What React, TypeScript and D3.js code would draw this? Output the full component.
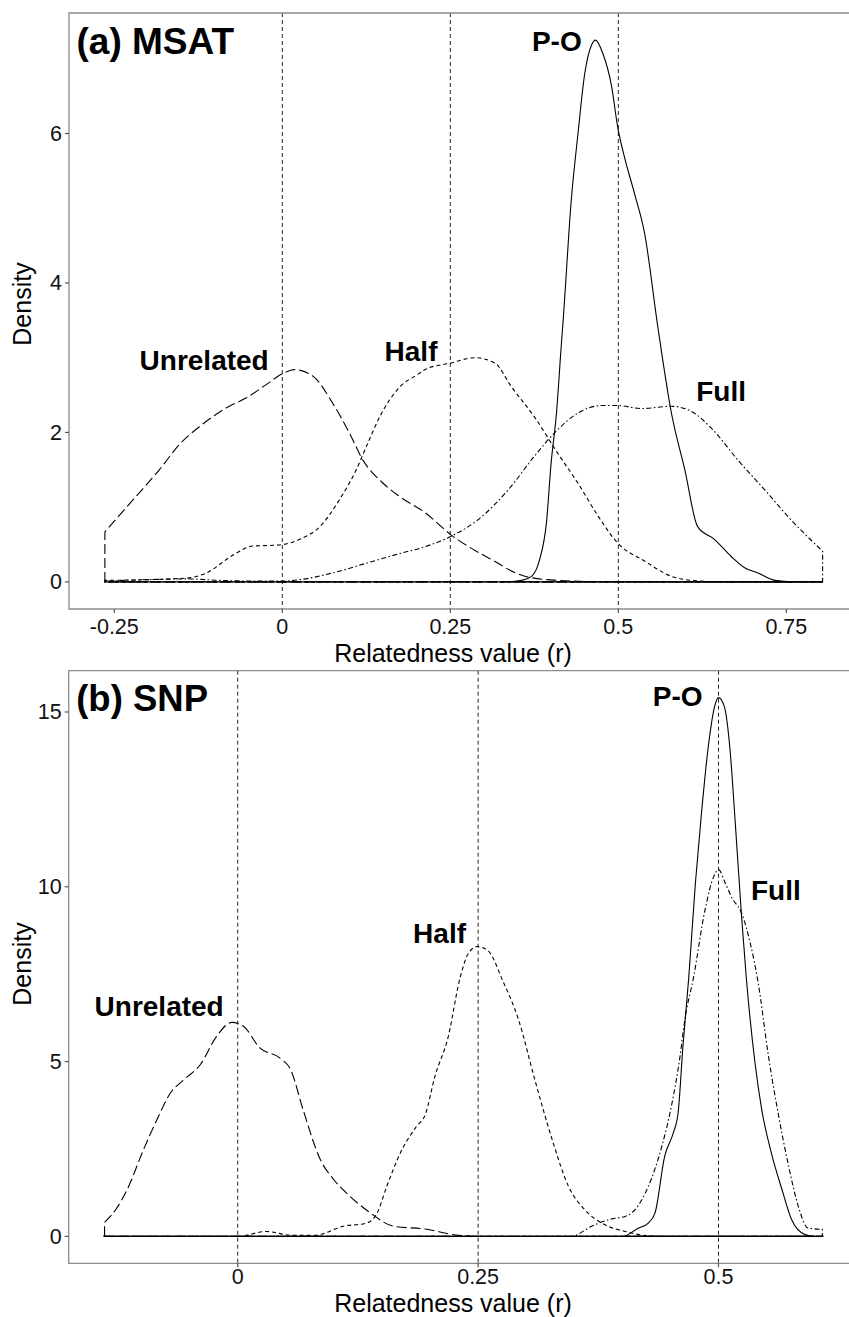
import React, { useRef, useEffect } from "react";
import * as d3 from "d3";

// tick values / labels
const msatXTicks = [-0.25, 0, 0.25, 0.5, 0.75];
const msatXTickLabels = ["-0.25", "0", "0.25", "0.5", "0.75"];
const msatYTicks = [0, 2, 4, 6];
const snpXTicks = [0, 0.25, 0.5];
const snpXTickLabels = ["0", "0.25", "0.5"];
const snpYTicks = [0, 5, 10, 15];
const refLines = [0, 0.25, 0.5];

// density curves: [r, density]
const msatUnrelated = [
  [-0.264, 0.67], [-0.222, 1.1], [-0.183, 1.5], [-0.153, 1.84], [-0.123, 2.08],
  [-0.083, 2.33], [-0.054, 2.46], [-0.024, 2.64], [0.001, 2.79], [0.018, 2.84],
  [0.046, 2.75], [0.075, 2.39], [0.1, 1.99], [0.12, 1.63], [0.15, 1.32],
  [0.175, 1.14], [0.212, 0.93], [0.251, 0.63], [0.311, 0.3], [0.361, 0.075],
  [0.41, 0.02], [0.5, 0], [0.804, 0],
];
const msatHalf = [
  [-0.264, 0.02], [-0.143, 0.05], [-0.113, 0.12], [-0.073, 0.36], [-0.044, 0.48],
  [-0.014, 0.49], [0.001, 0.5], [0.026, 0.57], [0.056, 0.74], [0.085, 1.1],
  [0.11, 1.5], [0.125, 1.81], [0.145, 2.21], [0.175, 2.61], [0.204, 2.79],
  [0.212, 2.84], [0.251, 2.93], [0.286, 3.0], [0.316, 2.93], [0.341, 2.61],
  [0.375, 2.21], [0.41, 1.72], [0.44, 1.32], [0.47, 0.88], [0.499, 0.52],
  [0.539, 0.28], [0.579, 0.075], [0.61, 0.02], [0.66, 0], [0.804, 0],
];
const msatFull = [
  [-0.264, 0.01], [-0.2, 0.03], [-0.143, 0.04], [-0.09, 0.02], [-0.03, 0.01],
  [0.0, 0.01], [0.026, 0.03], [0.075, 0.12], [0.125, 0.25], [0.175, 0.38],
  [0.212, 0.47], [0.251, 0.61], [0.291, 0.83], [0.336, 1.23], [0.375, 1.68],
  [0.41, 2.04], [0.44, 2.26], [0.475, 2.36], [0.499, 2.36], [0.534, 2.32],
  [0.579, 2.35], [0.609, 2.28], [0.638, 2.06], [0.678, 1.63], [0.718, 1.23],
  [0.757, 0.83], [0.804, 0.41],
];
const msatPO = [
  [-0.264, 0], [0.33, 0], [0.356, 0.02], [0.371, 0.075], [0.383, 0.3],
  [0.393, 0.79], [0.4, 1.59], [0.408, 2.26], [0.415, 3.15], [0.418, 3.51],
  [0.43, 5.11], [0.44, 6.0], [0.45, 6.8], [0.46, 7.18], [0.466, 7.25],
  [0.477, 7.07], [0.49, 6.63], [0.499, 6.09], [0.509, 5.69], [0.524, 5.2],
  [0.539, 4.67], [0.559, 3.4], [0.579, 2.26], [0.599, 1.5], [0.618, 0.74],
  [0.643, 0.57], [0.668, 0.34], [0.688, 0.19], [0.708, 0.12], [0.733, 0.02],
  [0.76, 0], [0.804, 0],
];

const snpUnrelated = [
  [-0.1385, 0.4], [-0.127, 0.76], [-0.115, 1.34], [-0.098, 2.48], [-0.084, 3.34],
  [-0.07, 4.1], [-0.056, 4.48], [-0.039, 4.91], [-0.022, 5.72], [-0.006, 6.12],
  [0.006, 6.01], [0.023, 5.39], [0.044, 5.1], [0.055, 4.77], [0.068, 3.62],
  [0.086, 2.19], [0.1, 1.62], [0.117, 1.14], [0.138, 0.67], [0.162, 0.29],
  [0.195, 0.21], [0.23, 0.03], [0.26, 0], [0.608, 0],
];
const snpHalf = [
  [-0.1385, 0], [0.0, 0], [0.03, 0.14], [0.056, 0.03], [0.08, 0.03],
  [0.11, 0.29], [0.134, 0.38], [0.145, 0.67], [0.155, 1.43], [0.169, 2.38],
  [0.186, 3.15], [0.195, 3.48], [0.205, 4.57], [0.219, 5.72], [0.231, 7.37],
  [0.24, 8.1], [0.249, 8.29], [0.261, 8.15], [0.275, 7.35], [0.292, 6.2],
  [0.309, 4.48], [0.327, 2.77], [0.344, 1.43], [0.361, 0.76], [0.382, 0.33],
  [0.403, 0.14], [0.43, 0.01], [0.46, 0], [0.608, 0],
];
const snpFull = [
  [-0.1385, 0], [0.347, 0], [0.368, 0.29], [0.389, 0.5], [0.403, 0.57],
  [0.413, 0.76], [0.427, 1.43], [0.441, 2.57], [0.451, 3.72], [0.46, 5.15],
  [0.465, 6.2], [0.474, 7.4], [0.486, 9.34], [0.495, 10.29], [0.5, 10.49],
  [0.507, 10.11], [0.514, 9.68], [0.524, 9.25], [0.533, 8.39], [0.541, 7.3],
  [0.552, 5.15], [0.562, 3.53], [0.573, 2.0], [0.583, 0.86], [0.593, 0.24],
  [0.608, 0.2],
];
const snpPO = [
  [-0.1385, 0], [0.4, 0], [0.417, 0.24], [0.427, 0.38], [0.434, 0.67],
  [0.444, 2.29], [0.453, 2.96], [0.458, 3.53], [0.463, 5.43], [0.469, 7.38],
  [0.476, 10.11], [0.482, 12.01], [0.489, 13.92], [0.496, 15.16], [0.5, 15.41],
  [0.506, 15.16], [0.512, 13.92], [0.517, 12.01], [0.524, 9.15], [0.529, 7.37],
  [0.538, 4.96], [0.545, 3.62], [0.555, 2.38], [0.566, 1.34], [0.576, 0.48],
  [0.59, 0.05], [0.6, 0], [0.608, 0],
];

// label anchor points (r, density)
const msatLabels = [
  { text: "Unrelated", r: -0.2124, d: 2.84 },
  { text: "Half", r: 0.1522, d: 2.96 },
  { text: "P-O", r: 0.3714, d: 7.1 },
  { text: "Full", r: 0.616, d: 2.42 },
];
const snpLabels = [
  { text: "Unrelated", r: -0.1489, d: 6.31 },
  { text: "Half", r: 0.1824, d: 8.39 },
  { text: "P-O", r: 0.4316, d: 15.16 },
  { text: "Full", r: 0.5338, d: 9.63 },
];

const FONT = "'Liberation Sans', Arial, Helvetica, sans-serif";

// ggplot-ish linetypes
const dashes = {
  unrelated: "10,4",
  half: "4,3",
  full: "1.5,2.5,5,2.5",
  po: null,
};

function App() {
  const ref = useRef();

  useEffect(() => {
    draw();
  }, []);

  const draw = () => {
    const svg = d3.select(ref.current);
    svg.selectAll("*").remove();

    const panels = [
      {
        title: "(a) MSAT",
        titleSize: 37,
        left: 69, right: 858.5, top: 13, bottom: 609,
        xDomain: [-0.3174, 0.8574],
        yDomain: [-0.3625, 7.6125],
        xTicks: msatXTicks, xTickLabels: msatXTickLabels,
        yTicks: msatYTicks,
        curves: [
          { pts: msatUnrelated, dash: dashes.unrelated },
          { pts: msatHalf, dash: dashes.half },
          { pts: msatFull, dash: dashes.full },
          { pts: msatPO, dash: dashes.po },
        ],
        labels: msatLabels,
        densityY: 304,
        tickOff: 25,
        titleOff: 52.5,
      },
      {
        title: "(b) SNP",
        titleSize: 36.5,
        left: 68.7, right: 858.2, top: 670.7, bottom: 1263.3,
        xDomain: [-0.1758, 0.6453],
        yDomain: [-0.7705, 16.1805],
        xTicks: snpXTicks, xTickLabels: snpXTickLabels,
        yTicks: snpYTicks,
        curves: [
          { pts: snpUnrelated, dash: dashes.unrelated },
          { pts: snpHalf, dash: dashes.half },
          { pts: snpFull, dash: dashes.full },
          { pts: snpPO, dash: dashes.po },
        ],
        labels: snpLabels,
        densityY: 964,
        tickOff: 21,
        titleOff: 48.2,
      },
    ];

    panels.forEach((p) => {
      const x = d3.scaleLinear().domain(p.xDomain).range([p.left, p.right]);
      const y = d3.scaleLinear().domain(p.yDomain).range([p.bottom, p.top]);
      const g = svg.append("g");

      // reference lines
      g.selectAll(".ref")
        .data(refLines)
        .enter()
        .append("line")
        .attr("x1", (d) => x(d))
        .attr("x2", (d) => x(d))
        .attr("y1", p.top)
        .attr("y2", p.bottom)
        .attr("stroke", "#222")
        .attr("stroke-width", 1)
        .attr("stroke-dasharray", "4,3");

      // density polygons
      const line = d3
        .line()
        .x((d) => x(d[0]))
        .y((d) => y(d[1]))
        .curve(d3.curveMonotoneX);

      p.curves.forEach((c) => {
        const first = c.pts[0];
        const last = c.pts[c.pts.length - 1];
        const body = line(c.pts);
        const path =
          "M" + x(first[0]) + "," + y(0) + "L" + body.slice(1) +
          "L" + x(last[0]) + "," + y(0) + "Z";
        g.append("path")
          .attr("d", path)
          .attr("fill", "none")
          .attr("stroke", "#000")
          .attr("stroke-width", 1.1)
          .attr("stroke-dasharray", c.dash);
      });

      // border (right side falls outside the image)
      g.append("path")
        .attr("d", "M" + p.right + "," + p.top + "H" + p.left + "V" + p.bottom + "H" + p.right)
        .attr("fill", "none")
        .attr("stroke", "#8c8c8c")
        .attr("stroke-width", 1.3);

      // y ticks
      g.selectAll(".yt")
        .data(p.yTicks)
        .enter()
        .append("line")
        .attr("x1", p.left - 4)
        .attr("x2", p.left)
        .attr("y1", (d) => y(d))
        .attr("y2", (d) => y(d))
        .attr("stroke", "#555")
        .attr("stroke-width", 1.2);
      g.selectAll(".yl")
        .data(p.yTicks)
        .enter()
        .append("text")
        .text((d) => d)
        .attr("x", p.left - 7)
        .attr("y", (d) => y(d) + 7.5)
        .attr("text-anchor", "end")
        .attr("font-family", FONT)
        .attr("font-size", "21.5px")
        .attr("fill", "#111");

      // x ticks
      g.selectAll(".xt")
        .data(p.xTicks)
        .enter()
        .append("line")
        .attr("x1", (d) => x(d))
        .attr("x2", (d) => x(d))
        .attr("y1", p.bottom)
        .attr("y2", p.bottom + 4)
        .attr("stroke", "#555")
        .attr("stroke-width", 1.2);
      g.selectAll(".xl")
        .data(p.xTicks)
        .enter()
        .append("text")
        .text((d, i) => p.xTickLabels[i])
        .attr("x", (d) => x(d))
        .attr("y", p.bottom + p.tickOff)
        .attr("text-anchor", "middle")
        .attr("font-family", FONT)
        .attr("font-size", "21.5px")
        .attr("fill", "#111");

      // axis titles
      g.append("text")
        .text("Relatedness value (r)")
        .attr("x", 453)
        .attr("y", p.bottom + p.titleOff)
        .attr("text-anchor", "middle")
        .attr("font-family", FONT)
        .attr("font-size", "25px")
        .attr("fill", "#000");
      g.append("text")
        .text("Density")
        .attr("transform", "translate(31," + p.densityY + ") rotate(-90)")
        .attr("text-anchor", "middle")
        .attr("font-family", FONT)
        .attr("font-size", "25px")
        .attr("fill", "#000");

      // panel title
      g.append("text")
        .text(p.title)
        .attr("x", p.left + 7.5)
        .attr("y", p.top + 40.5)
        .attr("font-family", FONT)
        .attr("font-weight", "bold")
        .attr("font-size", p.titleSize + "px")
        .attr("fill", "#000");

      // curve labels
      g.selectAll(".lab")
        .data(p.labels)
        .enter()
        .append("text")
        .text((d) => d.text)
        .attr("x", (d) => x(d.r))
        .attr("y", (d) => y(d.d))
        .attr("font-family", FONT)
        .attr("font-weight", "bold")
        .attr("font-size", "28px")
        .attr("fill", "#000");
    });
  };

  return (
    <div className="chart">
      <svg
        ref={ref}
        width={849}
        height={1317}
        style={{ position: "absolute", left: 0, top: 0, background: "#fff" }}
      ></svg>
    </div>
  );
}

export default App;
